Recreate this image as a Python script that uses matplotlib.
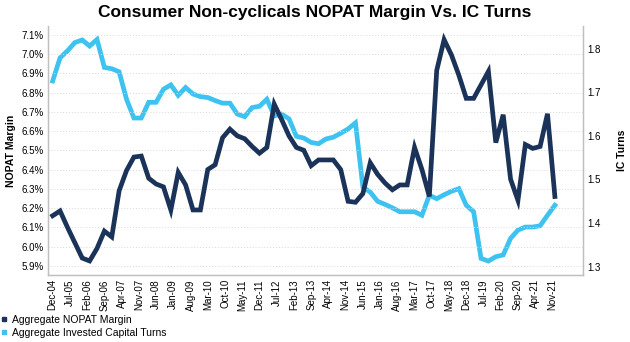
import matplotlib
matplotlib.use("Agg")
import matplotlib.pyplot as plt
from matplotlib.lines import Line2D

# quarterly observations, Dec-04 .. Dec-21 (months since Dec-04)
months = list(range(0, 205, 3))

nopat_margin = [
    6.16, 6.185, 6.10, 6.02, 5.94, 5.925, 5.99, 6.08, 6.05, 6.29,
    6.395, 6.465, 6.47, 6.355, 6.325, 6.31, 6.19, 6.385, 6.32, 6.19,
    6.19, 6.40, 6.425, 6.565, 6.61, 6.575, 6.56, 6.52, 6.485, 6.515,
    6.74, 6.66, 6.575, 6.515, 6.50, 6.42, 6.45, 6.45, 6.45, 6.40,
    6.235, 6.23, 6.275, 6.435, 6.375, 6.33, 6.295, 6.32, 6.32, 6.515,
    6.40, 6.26, 6.915, 7.075, 6.995, 6.89, 6.77, 6.77, 6.84, 6.91,
    6.54, 6.685, 6.35, 6.24, 6.53, 6.51, 6.52, 6.69, 6.26,
]

ic_turns = [
    1.726, 1.779, 1.795, 1.814, 1.820, 1.806, 1.821, 1.757, 1.754, 1.747,
    1.684, 1.641, 1.641, 1.677, 1.677, 1.707, 1.717, 1.693, 1.711, 1.696,
    1.690, 1.688, 1.681, 1.675, 1.675, 1.650, 1.644, 1.665, 1.668, 1.684,
    1.646, 1.650, 1.639, 1.599, 1.595, 1.585, 1.582, 1.593, 1.597, 1.606,
    1.616, 1.630, 1.483, 1.471, 1.450, 1.443, 1.435, 1.426, 1.426, 1.426,
    1.418, 1.464, 1.456, 1.465, 1.473, 1.479, 1.441, 1.426, 1.319, 1.313,
    1.323, 1.327, 1.365, 1.384, 1.391, 1.391, 1.394, 1.418, 1.441,
]

tick_labels = [
    "Dec-04", "Jul-05", "Feb-06", "Sep-06", "Apr-07", "Nov-07", "Jun-08",
    "Jan-09", "Aug-09", "Mar-10", "Oct-10", "May-11", "Dec-11", "Jul-12",
    "Feb-13", "Sep-13", "Apr-14", "Nov-14", "Jun-15", "Jan-16", "Aug-16",
    "Mar-17", "Oct-17", "May-18", "Dec-18", "Jul-19", "Feb-20", "Sep-20",
    "Apr-21", "Nov-21",
]
tick_months = [7 * i for i in range(len(tick_labels))]

left_ticks = [5.9, 6.0, 6.1, 6.2, 6.3, 6.4, 6.5, 6.6, 6.7, 6.8, 6.9, 7.0, 7.1]
right_ticks = [1.3, 1.4, 1.5, 1.6, 1.7, 1.8]

NAVY = "#1b3358"
LIGHT = "#3ec3f1"
SPINE = "#bfbfbf"

plt.rcParams["font.family"] = ["Liberation Sans", "DejaVu Sans"]

fig = plt.figure(figsize=(6.3, 3.42), dpi=100)
ax = fig.add_axes([48 / 630, 1 - 275 / 342, (582.7 - 48) / 630, (275 - 26) / 342])
ax2 = ax.twinx()

ax.plot(months, nopat_margin, color=NAVY, lw=3.4, solid_joinstyle="miter", zorder=3)
ax2.plot(months, ic_turns, color=LIGHT, lw=3.4, solid_joinstyle="miter", zorder=2)
ax.set_zorder(ax2.get_zorder() + 1)
ax.patch.set_visible(False)

ax.set_xlim(-1.9, 215.3)
ax.set_ylim(5.852, 7.146)
ax2.set_ylim(1.281, 1.852)

ax.set_yticks(left_ticks)
ax.set_yticklabels([f"{v:.1f}%" for v in left_ticks])
ax2.set_yticks(right_ticks)
ax2.set_yticklabels([f"{v:.1f}" for v in right_ticks])
ax.set_xticks(tick_months)
ax.set_xticklabels(tick_labels, rotation=90)

for a in (ax, ax2):
    a.tick_params(axis="both", length=0, labelsize=7, colors="#000000", pad=3)
    for s in ("top",):
        a.spines[s].set_visible(False)
    for s in ("left", "right", "bottom"):
        a.spines[s].set_color(SPINE)
        a.spines[s].set_linewidth(0.9)

ax.grid(axis="y", color="#d9d9d9", linestyle=(0, (1, 2)), linewidth=0.7)
ax.set_axisbelow(True)

ax.set_ylabel("NOPAT Margin", fontsize=7.5, fontweight="bold", labelpad=4)
ax2.set_ylabel("IC Turns", fontsize=7.5, fontweight="bold", labelpad=12)

fig.suptitle("Consumer Non-cyclicals NOPAT Margin Vs. IC Turns",
             fontsize=12.5, fontweight="bold", x=0.5, y=0.985)

handles = [
    Line2D([], [], color=NAVY, marker="s", linestyle="none", markersize=3.5),
    Line2D([], [], color=LIGHT, marker="s", linestyle="none", markersize=3.5),
]
fig.legend(handles, ["Aggregate NOPAT Margin", "Aggregate Invested Capital Turns"],
           loc="upper left", bbox_to_anchor=(0.0, 1 - 314 / 342), frameon=False,
           fontsize=7.5, handlelength=0.6, handletextpad=0.5, labelspacing=0.25,
           borderpad=0.1, borderaxespad=0.0)

fig.savefig("out.png", dpi=100)
